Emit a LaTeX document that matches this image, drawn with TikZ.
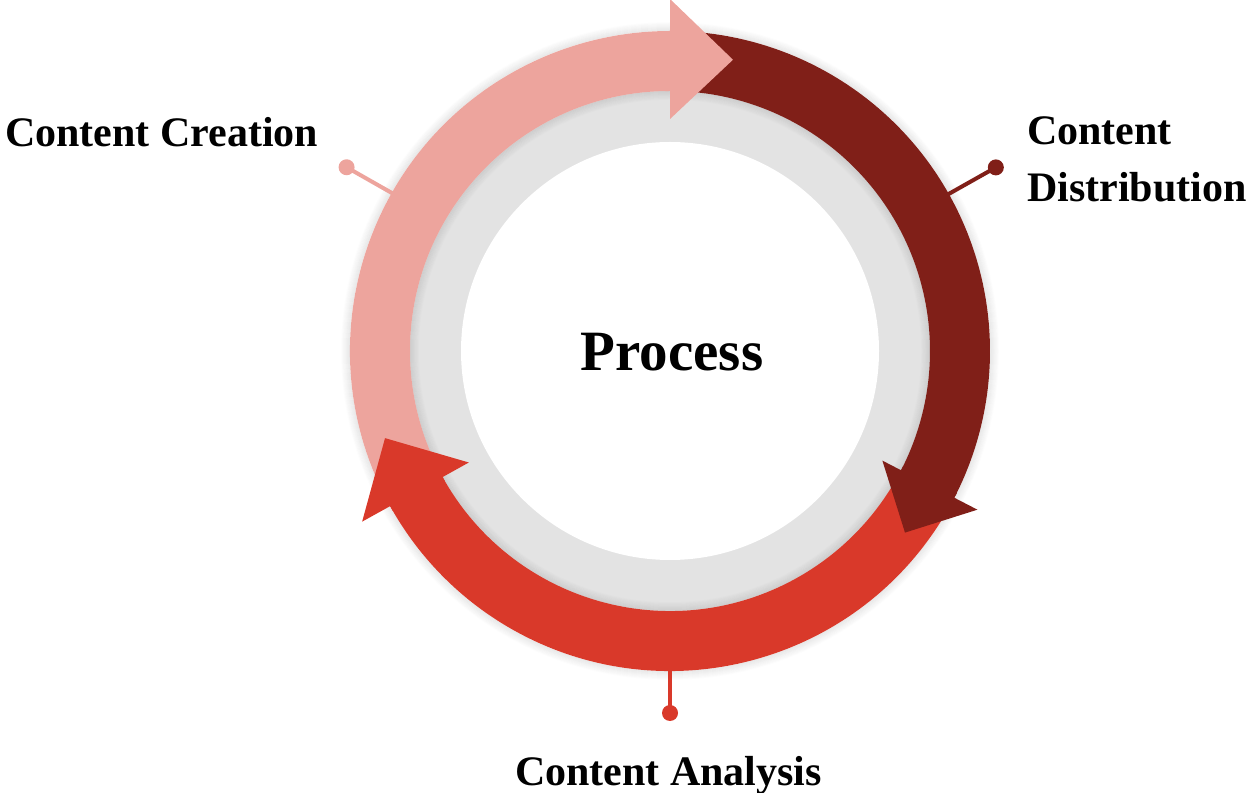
\documentclass[tikz,border=0pt]{standalone}
\usepackage{fontspec}
\setmainfont{Liberation Serif}
\begin{document}
\begin{tikzpicture}[x=1pt,y=1pt,
  dotnode/.style={circle, fill=#1, minimum size=16pt, inner sep=0pt},
  leader/.style={draw=#1, line width=4pt},
  lbl/.style={font=\fontsize{42}{57}\selectfont\bfseries, inner sep=0pt},
  title/.style={font=\fontsize{57}{60}\selectfont\bfseries, inner sep=0pt},
]
\definecolor{pinkc}{RGB}{237,164,157}
\definecolor{darkc}{RGB}{128,31,24}
\definecolor{redc}{RGB}{217,57,42}
\definecolor{grayc}{RGB}{227,227,227}
\useasboundingbox (0,0) rectangle (1249,792);
\begin{scope}[shift={(670,441)}]
  % gray ring and white centre
  \fill[grayc] (0,0) circle[radius=262pt];
  \foreach \k in {1,...,9} {
    \pgfmathsetmacro\op{0.09*(1-\k/10)}
    \draw[black, opacity=\op, line width=1pt] (0,0) circle[radius={(260.5-\k)*1pt}];
  }
  \fill[white] (0,0) circle[radius=209pt];
  % soft outer shadow
  \foreach \k in {1,...,9} {
    \pgfmathsetmacro\op{0.09*(1-\k/10)}
    \draw[black, opacity=\op, line width=1pt] (0,0) circle[radius={(319.5+\k)*1pt}];
  }
  % label leaders
  \coordinate (pA) at (150.4:318pt);
  \node[dotnode=pinkc] (pD) at (150.4:372pt) {};
  \draw[leader=pinkc] (pA) -- (pD.center);
  \coordinate (dA) at (29.4:318pt);
  \node[dotnode=darkc] (dD) at (29.4:374pt) {};
  \draw[leader=darkc] (dA) -- (dD.center);
  \coordinate (rA) at (270:318pt);
  \node[dotnode=redc] (rD) at (270:362pt) {};
  \draw[leader=redc] (rA) -- (rD.center);
  % arrow bodies
  \fill[pinkc] (207:320pt) arc[start angle=207, end angle=90, radius=320pt]
     -- (90:260pt) arc[start angle=90, end angle=207, radius=260pt] -- cycle;
  \fill[darkc] (86:320pt) arc[start angle=86, end angle=-27.3, radius=320pt]
     -- (-27.3:260pt) arc[start angle=-27.3, end angle=86, radius=260pt] -- cycle;
  \fill[redc] (-30:320pt) arc[start angle=-30, end angle=-151, radius=320pt]
     -- (-151:260pt) arc[start angle=-151, end angle=-30, radius=260pt] -- cycle;
  % arrow heads
  \fill[pinkc] (91:320pt) -- (90:320pt) -- (90:352pt) -- (77.8:298pt)
     -- (90:232pt) -- (90:260pt) -- (91:260pt) -- cycle;
  \fill[darkc] (-26.3:320pt) -- (-27.3:320pt) -- (-27.3:346pt) -- (-37.7:297pt)
     -- (-27.3:239pt) -- (-27.3:260pt) -- (-26.3:260pt) -- cycle;
  \fill[redc] (-150:320pt) -- (-151:320pt) -- (-151:352pt) -- (-163:298pt)
     -- (-151:230pt) -- (-151:260pt) -- (-150:260pt) -- cycle;
\end{scope}
% texts
\node[title, anchor=base] (proc) at (672,421) {Process};
\node[lbl, anchor=base west] (lc) at (5,645) {Content Creation};
\node[lbl, anchor=base west, align=left] (ld) at (1027,590) {Content\\Distribution};
\node[lbl, anchor=base] (la) at (668.5,7) {Content Analysis};
\end{tikzpicture}
\end{document}
